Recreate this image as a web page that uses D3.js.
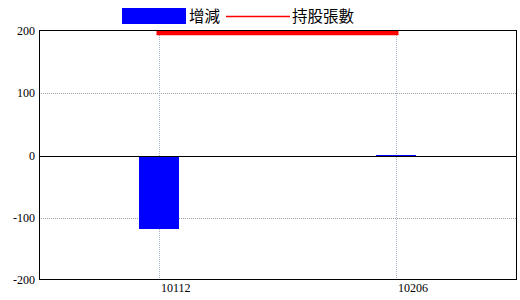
<!DOCTYPE html>
<html><head><meta charset="utf-8">
<script src="https://cdn.jsdelivr.net/npm/d3@7"></script>
<style>body{margin:0;background:#fff}svg{display:block}</style>
</head><body>
<svg id="c" width="520" height="300"></svg>
<script>
const categories = ["10112", "10206"];
const changeValues = [-118, 1];
const holdingValues = [198, 198];
const yTicks = [-200, -100, 0, 100, 200];
const legendLabels = ["增減", "持股張數"];

const svg = d3.select("#c");
const L = 39, R = 516, T = 31, B = 280;
const x = d3.scalePoint().domain(categories).range([L, R]).padding(0.51);
const y = d3.scaleLinear().domain([-200, 200]).range([B, T]);
const px = v => Math.round(v) + 0.5;

// grid
svg.append("g").selectAll("line").data(yTicks.filter(t => t !== 0 && t !== 200 && t !== -200)).join("line")
  .attr("x1", L).attr("x2", R).attr("y1", d => px(y(d))).attr("y2", d => px(y(d)))
  .attr("stroke", "#a0a0a0").attr("stroke-dasharray", "1,1").attr("shape-rendering", "crispEdges");
svg.append("g").selectAll("line").data(categories).join("line")
  .attr("x1", d => px(x(d))).attr("x2", d => px(x(d))).attr("y1", T).attr("y2", B)
  .attr("stroke", "#a8b8c8").attr("stroke-dasharray", "1,1").attr("shape-rendering", "crispEdges");

// bars
const bw = 40;
svg.append("g").selectAll("rect").data(categories).join("rect")
  .attr("x", d => Math.round(x(d)) - bw / 2)
  .attr("width", bw)
  .attr("y", (d, i) => Math.round(Math.min(y(0), y(changeValues[i]))))
  .attr("height", (d, i) => Math.max(1, Math.round(Math.abs(y(changeValues[i]) - y(0)))))
  .attr("fill", "#0000ff").attr("shape-rendering", "crispEdges");

// zero line
svg.append("line").attr("x1", L).attr("x2", R).attr("y1", px(y(0))).attr("y2", px(y(0)))
  .attr("stroke", "#000").attr("shape-rendering", "crispEdges");

// holding line
const line = d3.line().x((d, i) => Math.round(x(categories[i]))).y(d => y(d) + 0.5);
svg.append("path").datum(holdingValues).attr("d", line)
  .attr("fill", "none").attr("stroke", "#ff0000").attr("stroke-width", 5).attr("stroke-linecap", "square");

// frame
svg.append("rect").attr("x", L + 0.5).attr("y", T - 0.5).attr("width", R - L).attr("height", B - T)
  .attr("fill", "none").attr("stroke", "#000").attr("shape-rendering", "crispEdges");

// y axis labels
svg.append("g").selectAll("text").data(yTicks).join("text")
  .attr("x", 35).attr("y", d => y(d)).attr("dy", "0.35em").attr("text-anchor", "end")
  .attr("font-family", "Liberation Serif").attr("font-size", 12).attr("fill", "#000")
  .text(d => d);

// x axis labels
svg.append("g").selectAll("text").data(categories).join("text")
  .attr("x", d => Math.round(x(d)) + 2).attr("y", 292)
  .attr("font-family", "Liberation Serif").attr("font-size", 12).attr("fill", "#000")
  .text(d => d);

// legend
const lg = svg.append("g");
lg.append("rect").attr("x", 122).attr("y", 8).attr("width", 64).attr("height", 16).attr("fill", "#0000ff");
lg.append("text").attr("x", 189).attr("y", 22).attr("font-family", "Noto Sans CJK TC").attr("font-size", 15.5).text(legendLabels[0]);
lg.append("line").attr("x1", 226).attr("x2", 290).attr("y1", 16.5).attr("y2", 16.5).attr("stroke", "#ff0000").attr("stroke-width", 1.5);
lg.append("text").attr("x", 292).attr("y", 22).attr("font-family", "Noto Sans CJK TC").attr("font-size", 15.5).text(legendLabels[1]);
</script>
</body></html>
